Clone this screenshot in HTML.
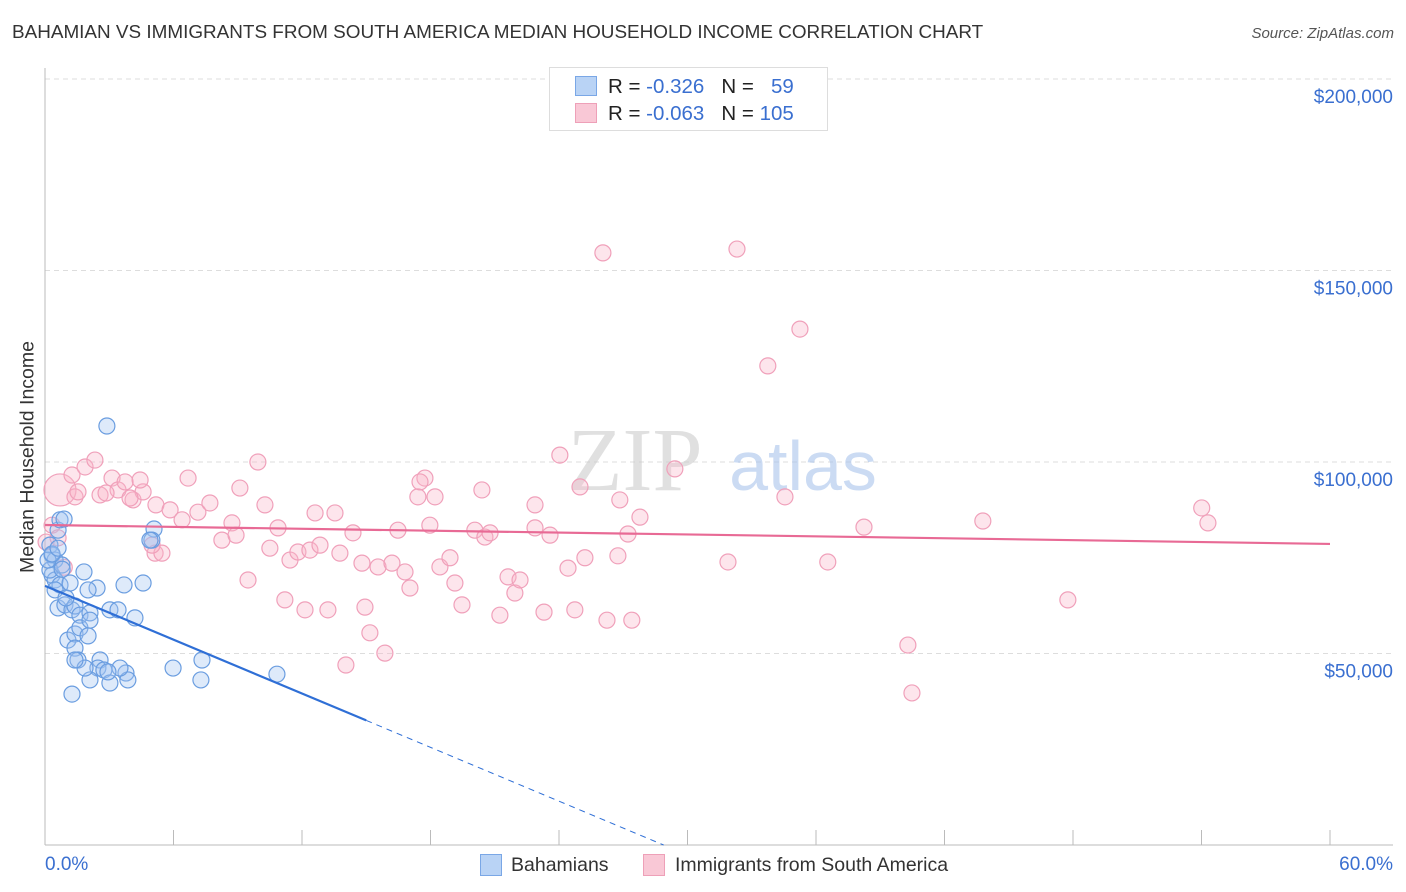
<!DOCTYPE html>
<html><head><meta charset="utf-8">
<style>
body{margin:0;background:#fff;font-family:"Liberation Sans",sans-serif;}
#wrap{position:relative;width:1406px;height:892px;overflow:hidden;}
.t{position:absolute;white-space:nowrap;}
</style></head>
<body>
<div id="wrap">
<div class="t" style="left:12px;top:22px;font-size:18.9px;color:#333;">BAHAMIAN VS IMMIGRANTS FROM SOUTH AMERICA MEDIAN HOUSEHOLD INCOME CORRELATION CHART</div>
<div class="t" style="right:12px;top:25px;font-size:15px;color:#555;font-style:italic;">Source: ZipAtlas.com</div>
<div class="t" style="left:28px;top:457px;font-size:19.5px;color:#333;transform:translate(-50%,-50%) rotate(-90deg);">Median Household Income</div>
<svg id="plot" width="1406" height="892" style="position:absolute;left:0;top:0"></svg>
<div style="position:absolute;left:549px;top:67px;width:277px;height:62px;border:1px solid #ddd;background:#fff;font-size:20.5px;">
 <div style="position:absolute;left:25px;top:8px;width:20px;height:18px;background:#b9d3f5;border:1px solid #7aa7e6;"></div>
 <div class="t" style="left:58px;top:7px;color:#222;">R = <span style="color:#3a6fd0">-0.326</span>&nbsp;&nbsp;&nbsp;N = &nbsp;&nbsp;<span style="color:#3a6fd0">59</span></div>
 <div style="position:absolute;left:25px;top:35px;width:20px;height:18px;background:#f9c8d6;border:1px solid #eea0b8;"></div>
 <div class="t" style="left:58px;top:34px;color:#222;">R = <span style="color:#3a6fd0">-0.063</span>&nbsp;&nbsp;&nbsp;N = <span style="color:#3a6fd0">105</span></div>
</div>
<div style="position:absolute;left:480px;top:853px;font-size:19.5px;color:#333;">
 <div style="position:absolute;left:0;top:1px;width:20px;height:20px;background:#b9d3f5;border:1px solid #7aa7e6;"></div>
 <div class="t" style="left:31px;top:1px;">Bahamians</div>
 <div style="position:absolute;left:163px;top:1px;width:20px;height:20px;background:#f9c8d6;border:1px solid #eea0b8;"></div>
 <div class="t" style="left:195px;top:1px;">Immigrants from South America</div>
</div>
</div>
<script>
const blueX=[0.23,0.33,0.47,0.61,0.70,0.89,0.33,0.47,0.70,1.17,1.82,0.61,0.93,1.26,1.40,1.63,2.10,2.43,2.01,1.07,1.40,1.63,2.01,1.40,1.54,2.10,3.03,3.41,3.69,4.58,4.20,2.89,5.09,4.99,2.57,2.47,2.75,3.78,2.10,3.03,3.87,1.26,5.98,7.33,7.28,10.83,0.23,0.79,0.47,0.98,3.50,1.87,4.90,0.14,2.94,1.40,0.33,0.61,0.80];
const blueY=[78.3,75.7,74.4,82.2,84.9,85.1,70.5,69.2,67.9,68.4,71.3,61.9,62.7,61.4,62.4,60.0,60.6,67.1,66.6,53.5,55.1,56.7,54.6,51.4,48.3,58.7,61.4,61.4,67.9,68.4,59.3,109.4,82.5,79.6,48.3,46.2,45.7,44.9,43.1,42.3,43.1,39.4,46.2,48.3,43.1,44.6,71.8,73.1,66.6,64.5,46.2,46.2,79.6,74.4,45.2,48.3,76.0,77.5,72.0];
const pinkX=[0.70,1.26,1.87,2.33,2.57,3.13,3.41,3.74,4.11,4.58,3.97,5.18,5.84,6.40,6.68,7.14,7.70,8.26,8.73,9.10,8.92,9.48,9.94,10.27,10.50,10.88,11.20,11.44,11.81,12.14,12.37,12.84,12.61,13.21,13.54,13.77,14.38,14.80,14.94,15.17,15.55,15.87,16.20,16.48,16.81,17.04,17.41,17.74,17.97,18.21,18.44,18.91,19.14,19.47,20.07,20.54,20.78,21.24,21.62,21.94,22.18,22.88,22.88,23.30,23.58,24.04,24.42,24.74,24.98,25.21,26.24,26.05,26.84,26.75,27.22,27.40,27.78,29.41,31.89,32.31,33.75,34.55,35.25,36.55,38.24,40.29,40.48,43.79,47.76,54.01,54.30,5.14,5.46,5.00,0.05,0.33,0.61,1.40,1.54,4.44,2.85,14.05,17.51,20.40,0.9];
const pinkY=[92.7,96.6,98.7,100.5,91.4,95.8,92.7,94.8,90.1,92.2,90.6,88.8,87.5,84.9,95.8,86.9,89.3,79.6,84.1,93.2,80.9,69.2,100.0,88.8,77.5,82.8,64.0,74.4,76.5,61.4,77.0,78.3,86.7,61.4,86.7,76.2,81.5,73.6,62.1,55.4,72.6,50.1,73.6,82.2,71.3,67.1,90.9,95.8,83.5,90.9,72.6,75.0,68.4,62.7,82.2,80.4,81.5,60.0,70.0,65.8,69.2,88.8,82.8,60.8,80.9,101.8,72.3,61.4,93.5,75.0,58.7,154.6,90.1,75.5,81.2,58.7,85.6,98.2,73.9,155.6,125.1,90.9,134.7,73.9,83.0,52.2,39.7,84.6,64.0,88.0,84.1,76.2,76.2,78.3,79.1,83.5,80.2,90.9,92.2,95.3,91.9,47.0,94.8,92.7,72.5];
const yTicks=[50,100,150,200];
const yTickLabels=["$50,000","$100,000","$150,000","$200,000"];
const xEdgeLabels=["0.0%","60.0%"];

const svg=document.getElementById('plot');
const NS='http://www.w3.org/2000/svg';
const X0=45,X1=1330,YT=79,YB=845;
const xs=v=>X0+v*(X1-X0)/60;
const ys=v=>YB-v*(YB-YT)/200;
function mk(t,a){const e=document.createElementNS(NS,t);for(const k in a)e.setAttribute(k,a[k]);svg.appendChild(e);return e;}
yTicks.forEach((t,i)=>{
 const g=mk('line',{x1:X0,x2:1393,y1:ys(t),y2:ys(t),stroke:'#ddd','stroke-dasharray':'5,4'});
 
 
 const tx=mk('text',{x:1393,y:ys(t)+24,'text-anchor':'end','font-size':19,fill:'#3a6fd0','font-family':'Liberation Sans'});
 tx.textContent=yTickLabels[i];
 
 
});
const ax=mk('line',{x1:X0,x2:X0,y1:68,y2:YB,stroke:'#bbb'});


const bx=mk('line',{x1:X0,x2:1393,y1:YB,y2:YB,stroke:'#bbb'});


for(let i=0;i<=10;i++){const tk=mk('line',{x1:xs(i*6),x2:xs(i*6),y1:830,y2:YB,stroke:'#bbb'});
 
 }
const l0=mk('text',{x:45,y:870,'font-size':19,fill:'#3a6fd0','font-family':'Liberation Sans'});l0.textContent=xEdgeLabels[0];


const l1=mk('text',{x:1393,y:870,'text-anchor':'end','font-size':19,fill:'#3a6fd0','font-family':'Liberation Sans'});l1.textContent=xEdgeLabels[1];


const w1=mk('text',{x:635,y:490,'text-anchor':'middle','font-size':90,fill:'#ccc','font-family':'Liberation Serif','opacity':0.6});w1.textContent='ZIP';


const w2=mk('text',{x:803,y:490,'text-anchor':'middle','font-size':70,fill:'#a9c4ec','font-family':'Liberation Sans','opacity':0.6});w2.textContent='atlas';


function pts(X,Y,fill,stroke,name){X.forEach((x,i)=>{
 const c=mk('circle',{cx:xs(x),cy:ys(Y[i]),r:(name==='pink-point'&&i===0)?16:8,fill:fill,stroke:stroke,'stroke-width':1.2});
 
 });}
pts(pinkX,pinkY,'rgba(248,180,200,0.35)','#f0a0ba','pink-point');
pts(blueX,blueY,'rgba(160,195,240,0.35)','#6a9de0','blue-point');
function fit(X,Y){const n=X.length;let mx=0,my=0;X.forEach((x,i)=>{mx+=x;my+=Y[i];});mx/=n;my/=n;let sxy=0,sxx=0;X.forEach((x,i)=>{sxy+=(x-mx)*(Y[i]-my);sxx+=(x-mx)**2;});const b=sxy/sxx;return [my-b*mx,b];}
const [ba,bb]=fit(blueX,blueY);
const bl=mk('line',{x1:xs(0),y1:ys(ba),x2:xs(15),y2:ys(ba+bb*15),stroke:'#2f6fd6','stroke-width':2.2});


const xz=bb<0?-ba/bb:60;
const bd=mk('line',{x1:xs(15),y1:ys(ba+bb*15),x2:xs(Math.min(xz,60)),y2:ys(ba+bb*Math.min(xz,60)),stroke:'#2f6fd6','stroke-width':1,'stroke-dasharray':'6,5'});


const [pa,pb]=fit(pinkX,pinkY);
const pl=mk('line',{x1:xs(0),y1:ys(pa),x2:xs(60),y2:ys(pa+pb*60),stroke:'#e86a95','stroke-width':2.2});


</script>
</body></html>
